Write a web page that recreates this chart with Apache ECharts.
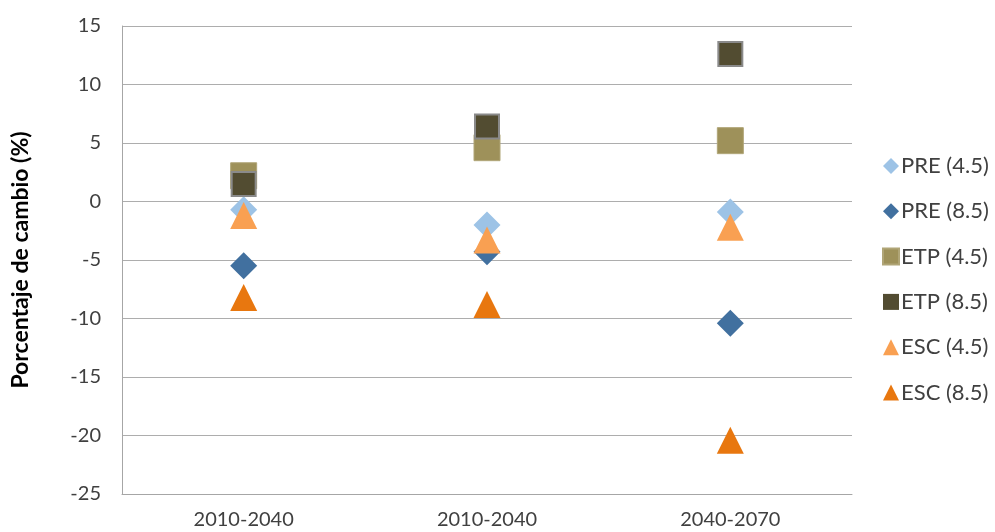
<!DOCTYPE html>
<html>
<head>
<meta charset="utf-8">
<script src="https://cdn.jsdelivr.net/npm/echarts@6/dist/echarts.min.js"></script>
<style>
  html, body { margin: 0; padding: 0; background: #fff; }
  #chart { width: 995px; height: 532px; }
</style>
</head>
<body>
<div id="chart"></div>
<script>
// Periods on the horizontal axis
const periods = ['2010-2040', '2010-2040', '2040-2070'];

// Percentage change per variable and scenario
const pre45 = [-0.7, -2.0, -0.9];
const pre85 = [-5.5, -4.3, -10.4];
const etp45 = [2.2, 4.6, 5.2];
const etp85 = [1.5, 6.4, 12.6];
const esc45 = [-1.2, -3.3, -2.2];
const esc85 = [-8.2, -8.8, -20.4];

// Y axis range and step
const yMin = -25;
const yMax = 15;
const yStep = 5;

const fontFamily = 'Lato, "Open Sans", sans-serif';
const textColor = '#404040';

const chart = echarts.init(document.getElementById('chart'));

function scatterSeries(name, values, symbol, size, color, border) {
  return {
    name: name,
    type: 'scatter',
    symbol: symbol,
    symbolSize: size,
    data: values.map((v, i) => [i, v]),
    itemStyle: {
      color: color,
      opacity: 1,
      borderColor: border ? border.color : color,
      borderWidth: border ? border.width : 0
    },
    emphasis: { disabled: true }
  };
}

chart.setOption({
  animation: false,
  backgroundColor: '#fff',
  grid: { left: 122, right: 143, top: 26, bottom: 38 },
  xAxis: {
    type: 'category',
    data: periods,
    boundaryGap: true,
    axisLine: { onZero: false, lineStyle: { color: '#A6A6A6', width: 1 } },
    axisTick: { show: false },
    axisLabel: {
      margin: 16,
      fontFamily: fontFamily,
      fontSize: 20,
      color: textColor,
      interval: 0
    },
    splitLine: { show: false }
  },
  yAxis: {
    type: 'value',
    min: yMin,
    max: yMax,
    interval: yStep,
    name: 'Porcentaje de cambio (%)',
    nameLocation: 'middle',
    nameGap: 90,
    nameTextStyle: {
      fontFamily: fontFamily,
      fontSize: 23,
      fontWeight: 'bold',
      color: '#000'
    },
    axisLine: { show: true, lineStyle: { color: '#A6A6A6', width: 1 } },
    axisTick: { show: false },
    axisLabel: {
      margin: 21,
      fontFamily: fontFamily,
      fontSize: 20,
      color: textColor
    },
    splitLine: { lineStyle: { color: '#ADADAD', width: 1 } }
  },
  legend: {
    orient: 'vertical',
    left: 877,
    top: 150,
    itemWidth: 16,
    itemHeight: 16,
    itemGap: 23.3,
    textStyle: {
      fontFamily: fontFamily,
      fontSize: 22,
      color: textColor,
      padding: [0, 0, 0, -3]
    },
    data: [
      { name: 'PRE (4.5)' },
      { name: 'PRE (8.5)' },
      { name: 'ETP (4.5)' },
      { name: 'ETP (8.5)', itemStyle: { borderWidth: 0 } },
      { name: 'ESC (4.5)' },
      { name: 'ESC (8.5)' }
    ]
  },
  series: [
    scatterSeries('PRE (4.5)', pre45, 'diamond', [27, 27], '#9DC3E6'),
    scatterSeries('PRE (8.5)', pre85, 'diamond', [27, 27], '#41709F'),
    scatterSeries('ETP (4.5)', etp45, 'rect', [26, 26], '#9E915A', { color: '#B0A577', width: 1 }),
    scatterSeries('ETP (8.5)', etp85, 'rect', [24, 24], '#524C31', { color: '#8A8A8A', width: 2 }),
    scatterSeries('ESC (4.5)', esc45, 'triangle', [27, 27], '#F9A052'),
    scatterSeries('ESC (8.5)', esc85, 'triangle', [27, 27], '#E8770F')
  ]
});
</script>
</body>
</html>
